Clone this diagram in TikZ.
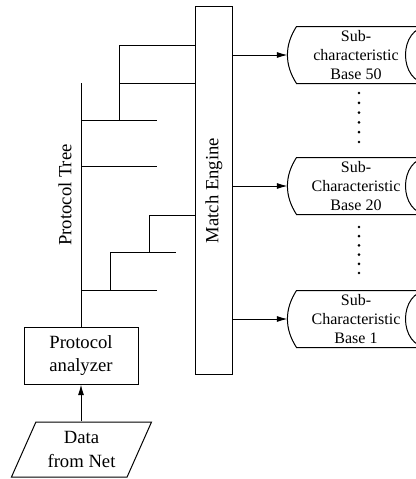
\documentclass[tikz,border=0pt]{standalone}
\usepackage{fontspec}
\setmainfont{Liberation Serif}
\usetikzlibrary{shapes.geometric, arrows.meta}

\begin{document}
\begin{tikzpicture}[x=0.75pt, y=-0.75pt, line width=0.75pt,
		bigfont/.style={font=\fontsize{14}{17.5}\selectfont},
		tip/.style={-{Latex[length=8pt, width=4.5pt]}},
		store/.style={minimum width=88.5pt, minimum height=42pt, inner sep=0pt, align=center, font=\fontsize{12}{14.25}\selectfont}]
			\useasboundingbox (0,0) rectangle (415,479);
			% engine and its label
			\node[draw, minimum width=28.3pt, minimum height=275.3pt, inner sep=0pt] (engine) at (213.9,190.5) {};
			\node[bigfont, rotate=90] (enginelabel) at (engine.center) {Match Engine};
			% input side
			\node[draw, bigfont, align=center, minimum width=85.5pt, minimum height=42.75pt] (analyzer) at (81,355.5) {Protocol\\analyzer};
			\node[draw, bigfont, align=center, trapezium, trapezium left angle=63, trapezium right angle=117, trapezium stretches=true, minimum width=105.75pt, minimum height=41.25pt, inner sep=0pt] (data) at (81.5,449.5) {Data\\from Net};
			\draw[tip] (data.north -| analyzer.south) -- (analyzer.south);
			% protocol tree
			\node[bigfont, rotate=90] (treelabel) at (65,195) {Protocol Tree};
			\coordinate (treetop) at (81,83);
			\coordinate (b1) at (81,120.7);
			\coordinate (b2) at (81,166);
			\coordinate (b3) at (81,290);
			\coordinate (k1) at (119,45);
			\coordinate (k2) at (119,83);
			\coordinate (k3) at (149,215);
			\coordinate (k4) at (110,252);
			\draw (treetop) -- (analyzer.north);
			\draw (b1) -- +(76,0);
			\draw (b2) -- +(76,0);
			\draw (b3) -- +(76,0);
			\draw (b1 -| k1) -- (k1) -- (k1 -| engine.west);
			\draw (k2) -- (k2 -| engine.west);
			\draw (b3 -| k4) -- (k4) -- +(66,0);
			\draw (k4 -| k3) -- (k3) -- (k3 -| engine.west);
			% characteristic bases
			\node[store] (base50) at (356,55) {Sub-\\characteristic\\Base 50};
			\node[store] (base20) at (356,186) {Sub-\\Characteristic\\Base 20};
			\node[store] (base1) at (356,319) {Sub-\\Characteristic\\Base 1};
			\foreach \b in {base50,base20,base1}{
				\draw (\b.north west) to[bend right=33] (\b.south west) -- ([xshift=10pt]\b.south east) to[bend left=90, looseness=1.4] ([xshift=10pt]\b.north east) -- cycle;
				\draw[tip] (\b.west -| engine.east) -- ([xshift=-6.75pt]\b.west);
			}
			\foreach \y in {93,102.8,...,143} \fill (359,\y) circle (1.1pt);
			\foreach \y in {227,236.2,...,274} \fill (359,\y) circle (1.1pt);
		\end{tikzpicture}
\end{document}
